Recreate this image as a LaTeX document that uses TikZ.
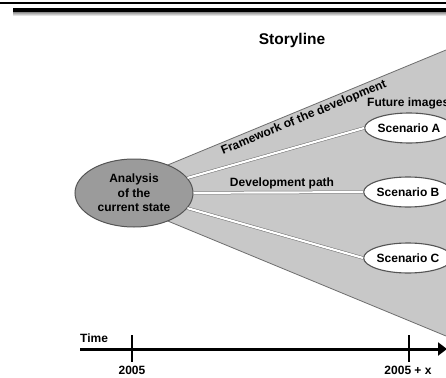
\documentclass[tikz,border=0pt]{standalone}
\usepackage{fontspec}
\setmainfont{Liberation Sans}
\usetikzlibrary{shapes.geometric,arrows.meta}
\definecolor{wedgegray}{HTML}{C8C8C8}
\definecolor{edgegray}{HTML}{6E6E6E}
\definecolor{blobgray}{HTML}{9B9B9B}
\definecolor{rimgray}{HTML}{555555}
\tikzset{
  lbl/.style={font=\bfseries\fontsize{12}{14.5}\selectfont, inner sep=0pt, text=black},
  scen/.style={ellipse, draw=rimgray, line width=1.1pt, fill=white,
    minimum width=74pt, minimum height=30pt, inner sep=0pt, lbl},
  origin/.style={ellipse, draw=rimgray, line width=1pt, fill=blobgray,
    minimum width=118pt, minimum height=68pt, inner sep=0pt, lbl, align=center},
  track/.style={draw=edgegray, line width=0.5pt, double=white, double distance=2.2pt},
  axis/.style={line width=3pt, -{Triangle[length=9pt,width=13pt]}},
  tick/.style={line width=2pt}
}
\begin{document}
\begin{tikzpicture}[x=1pt, y=-1pt]
\useasboundingbox (0,0) rectangle (446,377);
\fill[white] (0,0) rectangle (446,377);
\begin{scope}
\clip (0,0) rectangle (446,377);
% page rules
\draw[line width=2pt] (0,3) -- (446,3);
\shade[top color=black!45, bottom color=white] (13,12) rectangle (446,16);
\draw[line width=4pt] (13,10.5) -- (446,10.5);
% title
\node[font=\bfseries\fontsize{15.5}{18}\selectfont] (title) at (292,40) {Storyline};
% the cone of possible futures
\coordinate (apex) at (100,193);
\coordinate (topright) at (446,50);
\coordinate (botright) at (446,336);
\fill[wedgegray] (apex) -- (topright) -- (botright) -- cycle;
\draw[edgegray, line width=0.8pt] (apex) -- (topright)
  node[pos=0.58, sloped, below=2.5pt, lbl] (frame) {Framework of the development};
\draw[edgegray, line width=0.8pt] (apex) -- (botright);
% nodes
\node[origin] (ana) at (134,193) {Analysis\\of the\\current state};
\node[scen] (scA) at (409,128) {Scenario A};
\node[scen] (scB) at (408,192) {Scenario B};
\node[scen] (scC) at (408,258) {Scenario C};
% development paths
\draw[track] (ana) -- (scA.west);
\draw[track] (ana) -- (scB);
\draw[track] (ana) -- (scC.west);
% labels
\node[lbl, anchor=west] (future) at (367,103) {Future images};
\node[lbl] (devpath) at (282,183) {Development path};
% time axis
\coordinate (t0) at (80,349);
\coordinate (t1) at (447,349);
\draw[axis] (t0) -- (t1);
\coordinate (k1a) at (132,335);
\coordinate (k1b) at (132,362);
\coordinate (k2a) at (409,335);
\coordinate (k2b) at (409,362);
\draw[tick] (k1a) -- (k1b);
\draw[tick] (k2a) -- (k2b);
\node[lbl, anchor=south west] (time) at (80,343) {Time};
\node[lbl] (y0) at (132,370) {2005};
\node[lbl] (y1) at (408,370) {2005 + x};
\end{scope}
\end{tikzpicture}
\end{document}
